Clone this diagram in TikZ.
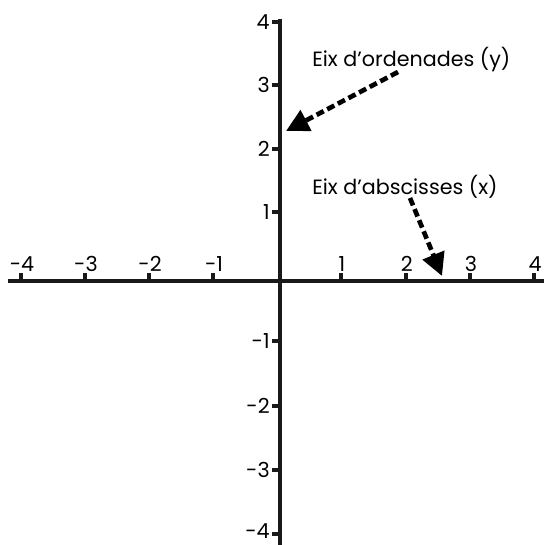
\documentclass[tikz,border=0pt]{standalone}
\usepackage{fontspec}
\setmainfont{Poppins}
\usetikzlibrary{arrows.meta}
\begin{document}
\begin{tikzpicture}[x=0.75pt,y=-0.75pt,
 axis/.style={line width=3pt, draw=black!90},
 tickmark/.style={line width=3pt, draw=black!90},
 lbl/.style={font=\fontsize{15.5}{18}\selectfont, inner sep=0pt},
 note/.style={font=\fontsize{15.5}{18}\selectfont, inner sep=0pt, anchor=west},
 pointer/.style={line width=3.5pt, dash pattern=on 6pt off 3pt, -{Triangle[length=17pt,width=17pt]}}]
\useasboundingbox (0,0) rectangle (544,545);
\coordinate (xl) at (8,281);
\coordinate (xr) at (544,281);
\coordinate (yt) at (280,19);
\coordinate (yb) at (280,545);
\draw[axis] (xl) -- (xr);
\draw[axis] (yt) -- (yb);
% x ticks and labels
\foreach \v/\px in {-4/21,-3/85,-2/149,-1/213,1/341,2/405.7,3/470,4/534}{
  \coordinate (xt\v) at (\px,281);
  \draw[tickmark] (xt\v) -- ++(0,-8);
  \node[lbl, anchor=south] (xlab\v) at (\px+1,272) {\v};
}
% y ticks and labels
\foreach \v/\py/\ly in {4/22/22,3/85/85,2/149/149,1/212/212,-1/341/341,-2/405.7/405.7,-3/470/470,-4/534/531}{
  \coordinate (yt\v) at (280,\py);
  \draw[tickmark] (yt\v) -- ++(-8,0);
  \node[lbl, anchor=east] (ylab\v) at (270,\ly) {\v};
}
\node[note] (ordlabel) at (312,60) {Eix d’ordenades (y)};
\node[note] (abslabel) at (312,187) {Eix d’abscisses (x)};
\coordinate (ordtail) at (398,72);
\coordinate (ordtip) at (286,131);
\coordinate (abstail) at (410,198);
\coordinate (abstip) at (442,276);
\draw[pointer] (ordtail) -- (ordtip);
\draw[pointer] (abstail) -- (abstip);
\end{tikzpicture}
\end{document}
